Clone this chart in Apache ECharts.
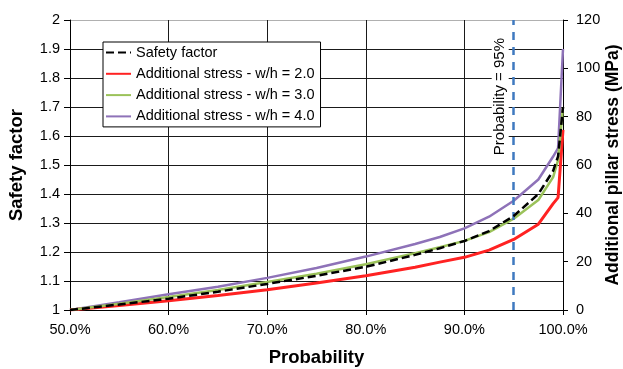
<!DOCTYPE html>
<html>
<head>
<meta charset="utf-8">
<script src="https://cdn.jsdelivr.net/npm/echarts@6/dist/echarts.min.js"></script>
<style>
html,body{margin:0;padding:0;background:#fff;}
#chart{width:623px;height:369px;}
</style>
</head>
<body>
<div id="chart"></div>
<script>
const probability = [50, 55, 60, 65, 70, 75, 80, 85, 87.5, 90, 92.5, 95, 97.5, 99, 99.5, 100];
const safetyFactor = [1.0, 1.019, 1.039, 1.063, 1.09, 1.118, 1.149, 1.19, 1.213, 1.238, 1.272, 1.324, 1.40, 1.48, 1.53, 1.70];
const stressWH2 = [0, 1.9, 3.8, 6.0, 8.4, 11.2, 14.2, 17.7, 19.8, 21.8, 24.8, 29.2, 35.5, 44, 46.5, 74.5];
const stressWH3 = [0, 2.6, 5.4, 8.3, 11.6, 15.0, 18.9, 23.5, 26.0, 28.6, 32.2, 37.8, 45.5, 55, 62, 84];
const stressWH4 = [0, 3.2, 6.5, 9.6, 13.3, 17.4, 22.1, 27.3, 30.2, 33.8, 38.6, 45.2, 54, 63.5, 67, 108];
const seriesNames = ['Safety factor', 'Additional stress - w/h = 2.0', 'Additional stress - w/h = 3.0', 'Additional stress - w/h = 4.0'];
const markProbability = 95;
const markLabel = 'Probability = 95%';

const pairs = (ys) => probability.map((x, i) => [x, ys[i]]);
const font = 'Arial, "Liberation Sans", sans-serif';
const tickFont = 14.5;
const titleFont = 18.5;

const chart = echarts.init(document.getElementById('chart'), null, {renderer: 'canvas'});
const splitColors = [];
for (let i = 0; i < 10; i++) splitColors.push('#1a1a1a');
splitColors.push('#b0b0b0');

chart.setOption({
  animation: false,
  backgroundColor: '#fff',
  textStyle: {fontFamily: font},
  grid: {left: 70, right: 60, top: 20, bottom: 59, containLabel: false, outerBoundsMode: 'none'},
  legend: {
    data: seriesNames,
    orient: 'vertical',
    left: 103,
    top: 42,
    padding: [3, 6, 3, 2],
    itemGap: 6.3,
    itemWidth: 25,
    itemHeight: 14,
    backgroundColor: '#fff',
    borderColor: '#000',
    borderWidth: 1,
    borderRadius: 0,
    itemStyle: {opacity: 0},
    textStyle: {fontFamily: font, fontSize: tickFont, lineHeight: 14, color: '#000'}
  },
  xAxis: {
    type: 'value',
    min: 50, max: 100, interval: 10,
    name: 'Probability',
    nameLocation: 'middle',
    nameGap: 38,
    nameMoveOverlap: false,
    nameTextStyle: {fontFamily: font, fontSize: titleFont, fontWeight: 'bold', color: '#000'},
    axisLine: {lineStyle: {color: '#000', width: 1}},
    axisTick: {show: true, inside: false, length: 5, lineStyle: {color: '#000'}},
    axisLabel: {fontFamily: font, fontSize: tickFont, color: '#000', margin: 12,
      formatter: v => v.toFixed(1) + '%'},
    splitLine: {show: true, lineStyle: {color: '#1a1a1a', width: 1}}
  },
  yAxis: [
    {
      type: 'value',
      min: 1, max: 2, interval: 0.1,
      name: 'Safety factor',
      nameLocation: 'middle',
      nameGap: 44,
      nameMoveOverlap: false,
      nameRotate: 90,
      nameTextStyle: {fontFamily: font, fontSize: titleFont, fontWeight: 'bold', color: '#000'},
      axisLine: {show: true, lineStyle: {color: '#000', width: 1}},
      axisTick: {show: true, inside: false, length: 6, lineStyle: {color: '#000'}},
      axisLabel: {fontFamily: font, fontSize: tickFont, color: '#000', margin: 10,
        formatter: v => String(Math.round(v * 10) / 10)},
      splitLine: {show: true, lineStyle: {color: splitColors, width: 1}}
    },
    {
      type: 'value',
      min: 0, max: 120, interval: 20,
      name: 'Additional pillar stress (MPa)',
      nameLocation: 'middle',
      nameGap: 41,
      nameMoveOverlap: false,
      nameRotate: 90,
      nameTextStyle: {fontFamily: font, fontSize: 17.5, fontWeight: 'bold', color: '#000'},
      position: 'right',
      axisLine: {show: true, lineStyle: {color: '#000', width: 1}},
      axisTick: {show: true, inside: false, length: 5, lineStyle: {color: '#000'}},
      axisLabel: {fontFamily: font, fontSize: tickFont, color: '#000', margin: 13},
      splitLine: {show: false}
    }
  ],
  series: [
    {
      name: seriesNames[3], type: 'line', yAxisIndex: 1, data: pairs(stressWH4),
      symbol: 'none', smooth: false, z: 3,
      lineStyle: {color: '#8e72b8', width: 2.5}, itemStyle: {color: '#8e72b8'}
    },
    {
      name: seriesNames[1], type: 'line', yAxisIndex: 1, data: pairs(stressWH2),
      symbol: 'none', smooth: false, z: 3,
      lineStyle: {color: '#ff2222', width: 3}, itemStyle: {color: '#ff2222'}
    },
    {
      name: seriesNames[2], type: 'line', yAxisIndex: 1, data: pairs(stressWH3),
      symbol: 'none', smooth: false, z: 4,
      lineStyle: {color: '#9bc25a', width: 2.5}, itemStyle: {color: '#9bc25a'}
    },
    {
      name: seriesNames[0], type: 'line', yAxisIndex: 0, data: pairs(safetyFactor),
      symbol: 'none', smooth: false, z: 5,
      lineStyle: {color: '#000', width: 2.5, type: [8, 4]}, itemStyle: {color: '#000'},
      markLine: {
        silent: true,
        symbol: ['none', 'none'],
        lineStyle: {color: '#3f7ac0', width: 2.5, type: [8, 7]},
        label: {
          show: true,
          formatter: markLabel,
          position: 'insideEndTop',
          distance: [16, 5],
          fontFamily: font, fontSize: 15, color: '#000',
          backgroundColor: '#fff',
          padding: [1, 2]
        },
        data: [[{coord: [markProbability, 1]}, {coord: [markProbability, 2]}]]
      }
    }
  ]
});
</script>
</body>
</html>
